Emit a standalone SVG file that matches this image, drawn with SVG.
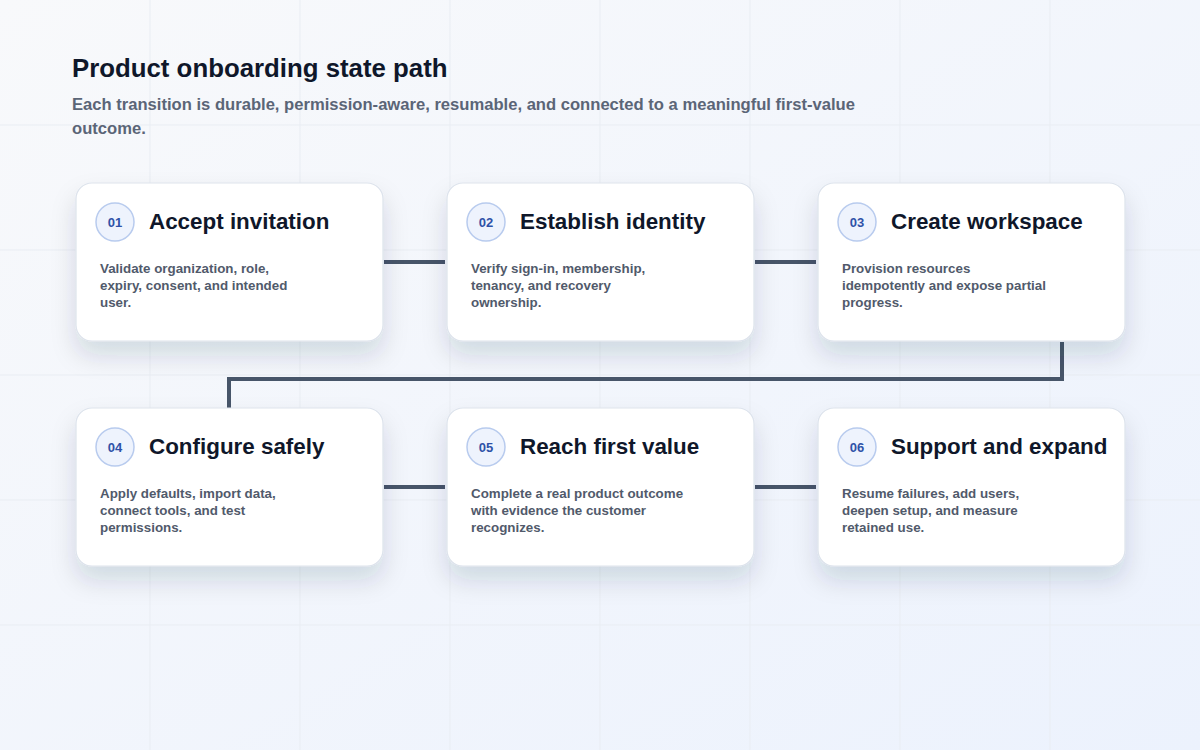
<svg xmlns="http://www.w3.org/2000/svg" width="1200" height="750" viewBox="0 0 1200 750">
<defs>
<linearGradient id="bg" x1="0" y1="0" x2="1" y2="1">
<stop offset="0" stop-color="#f8f9fb"/>
<stop offset="1" stop-color="#ecf2fd"/>
</linearGradient>
<filter id="sh" x="-20%" y="-20%" width="140%" height="160%">
<feDropShadow dx="0" dy="14" stdDeviation="12" flood-color="#1e293b" flood-opacity="0.14"/>
</filter>
</defs>
<style>
.grid{stroke:#e9edf3;stroke-width:1}
.card{fill:#ffffff;stroke:#dde3ec;stroke-width:1.2;filter:url(#sh)}
.badge{fill:#eef3fd;stroke:#b8cbee;stroke-width:1.5}
.num{font-family:"Liberation Sans",Arial,sans-serif;font-size:13px;font-weight:700;fill:#2f52a8;text-anchor:middle}
.ttl{font-family:"Liberation Sans",Arial,sans-serif;font-size:22.4px;font-weight:700;fill:#0f172a}
.desc{font-family:"Liberation Sans",Arial,sans-serif;font-size:13.35px;font-weight:700;fill:#515a6b}
.conn{fill:none;stroke:#475569;stroke-width:4}
.h1{font-family:"Liberation Sans",Arial,sans-serif;font-size:25.8px;font-weight:700;fill:#0f172a}
.sub{font-family:"Liberation Sans",Arial,sans-serif;font-size:16.6px;font-weight:700;fill:#5b6577}
</style>
<rect width="1200" height="750" fill="url(#bg)"/>
<g id="grid">
<line class="grid" x1="150" y1="0" x2="150" y2="750"/>
<line class="grid" x1="300" y1="0" x2="300" y2="750"/>
<line class="grid" x1="450" y1="0" x2="450" y2="750"/>
<line class="grid" x1="600" y1="0" x2="600" y2="750"/>
<line class="grid" x1="750" y1="0" x2="750" y2="750"/>
<line class="grid" x1="900" y1="0" x2="900" y2="750"/>
<line class="grid" x1="1050" y1="0" x2="1050" y2="750"/>
<line class="grid" x1="0" y1="125" x2="1200" y2="125"/>
<line class="grid" x1="0" y1="250" x2="1200" y2="250"/>
<line class="grid" x1="0" y1="375" x2="1200" y2="375"/>
<line class="grid" x1="0" y1="500" x2="1200" y2="500"/>
<line class="grid" x1="0" y1="625" x2="1200" y2="625"/>
</g>
<g id="header">
<text class="h1" x="72" y="77">Product onboarding state path</text>
<text class="sub" x="72" y="110">Each transition is durable, permission-aware, resumable, and connected to a meaningful first-value</text>
<text class="sub" x="72" y="134">outcome.</text>
</g>
<g id="connectors">
<line class="conn" x1="384" y1="262" x2="445" y2="262"/>
<line class="conn" x1="755" y1="262" x2="816" y2="262"/>
<polyline class="conn" points="1062,342 1062,379 229,379 229,408"/>
<line class="conn" x1="384" y1="487" x2="445" y2="487"/>
<line class="conn" x1="755" y1="487" x2="816" y2="487"/>
</g>
<g id="node1">
<rect class="card" x="76" y="183" width="307" height="158" rx="16"/>
<circle class="badge" cx="115" cy="222" r="19"/>
<text class="num" x="115" y="227">01</text>
<text class="ttl" x="149" y="229">Accept invitation</text>
<text class="desc" x="100" y="273">Validate organization, role,</text>
<text class="desc" x="100" y="290">expiry, consent, and intended</text>
<text class="desc" x="100" y="307">user.</text>
</g>
<g id="node2">
<rect class="card" x="447" y="183" width="307" height="158" rx="16"/>
<circle class="badge" cx="486" cy="222" r="19"/>
<text class="num" x="486" y="227">02</text>
<text class="ttl" x="520" y="229">Establish identity</text>
<text class="desc" x="471" y="273">Verify sign-in, membership,</text>
<text class="desc" x="471" y="290">tenancy, and recovery</text>
<text class="desc" x="471" y="307">ownership.</text>
</g>
<g id="node3">
<rect class="card" x="818" y="183" width="307" height="158" rx="16"/>
<circle class="badge" cx="857" cy="222" r="19"/>
<text class="num" x="857" y="227">03</text>
<text class="ttl" x="891" y="229">Create workspace</text>
<text class="desc" x="842" y="273">Provision resources</text>
<text class="desc" x="842" y="290">idempotently and expose partial</text>
<text class="desc" x="842" y="307">progress.</text>
</g>
<g id="node4">
<rect class="card" x="76" y="408" width="307" height="158" rx="16"/>
<circle class="badge" cx="115" cy="447" r="19"/>
<text class="num" x="115" y="452">04</text>
<text class="ttl" x="149" y="454">Configure safely</text>
<text class="desc" x="100" y="498">Apply defaults, import data,</text>
<text class="desc" x="100" y="515">connect tools, and test</text>
<text class="desc" x="100" y="532">permissions.</text>
</g>
<g id="node5">
<rect class="card" x="447" y="408" width="307" height="158" rx="16"/>
<circle class="badge" cx="486" cy="447" r="19"/>
<text class="num" x="486" y="452">05</text>
<text class="ttl" x="520" y="454">Reach first value</text>
<text class="desc" x="471" y="498">Complete a real product outcome</text>
<text class="desc" x="471" y="515">with evidence the customer</text>
<text class="desc" x="471" y="532">recognizes.</text>
</g>
<g id="node6">
<rect class="card" x="818" y="408" width="307" height="158" rx="16"/>
<circle class="badge" cx="857" cy="447" r="19"/>
<text class="num" x="857" y="452">06</text>
<text class="ttl" x="891" y="454">Support and expand</text>
<text class="desc" x="842" y="498">Resume failures, add users,</text>
<text class="desc" x="842" y="515">deepen setup, and measure</text>
<text class="desc" x="842" y="532">retained use.</text>
</g>
</svg>
